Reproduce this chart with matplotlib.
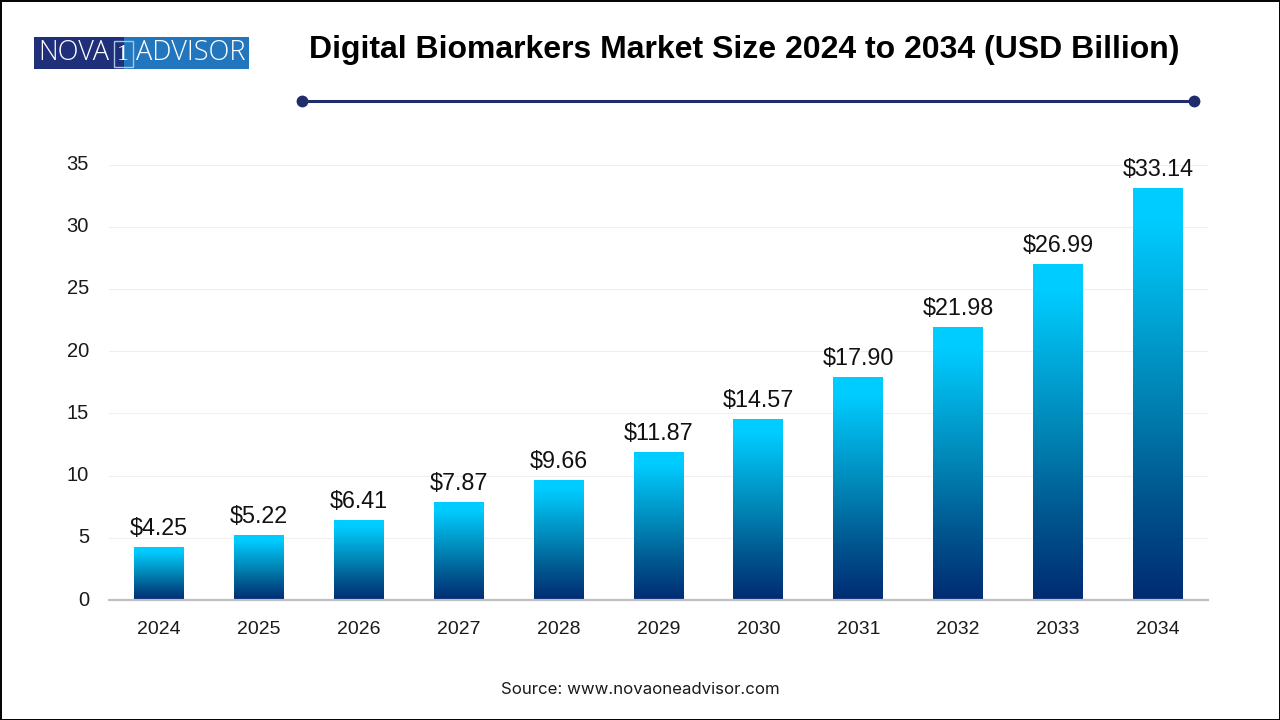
import numpy as np
import matplotlib
matplotlib.use('Agg')
import matplotlib.pyplot as plt
from matplotlib.colors import LinearSegmentedColormap
from matplotlib.patches import Rectangle

years = ['2024', '2025', '2026', '2027', '2028', '2029', '2030', '2031', '2032', '2033', '2034']
values = [4.25, 5.22, 6.41, 7.87, 9.66, 11.87, 14.57, 17.90, 21.98, 26.99, 33.14]
labels = ['$4.25', '$5.22', '$6.41', '$7.87', '$9.66', '$11.87', '$14.57', '$17.90', '$21.98', '$26.99', '$33.14']
y_ticks = [0, 5, 10, 15, 20, 25, 30, 35]

W, H = 1280, 720
plt.rcParams['font.family'] = ['Liberation Sans', 'DejaVu Sans']

fig = plt.figure(figsize=(W / 100, H / 100), dpi=100, facecolor='white')

# chart area, pixel box
ax = fig.add_axes([109 / W, 1 - 600 / H, (1208 - 109) / W, (600 - 164.5) / H])
ax.set_xlim(-0.5, 10.5)
ax.set_ylim(0, 35)
ax.set_axisbelow(True)
ax.grid(axis='y', color='#EFEFEF', linewidth=0.8)
for side in ['top', 'left', 'right']:
    ax.spines[side].set_visible(False)
ax.spines['bottom'].set_color('#BFBFBF')
ax.spines['bottom'].set_linewidth(1.6)
ax.spines['bottom'].set_zorder(5)
ax.tick_params(axis='both', length=0, labelcolor='#1A1A1A')
ax.tick_params(axis='x', pad=15, labelsize=14)
ax.tick_params(axis='y', pad=14.4, labelsize=14.5)
ax.set_yticks(y_ticks)
for lab in ax.get_yticklabels():
    lab.set_va('center')
ax.set_xticks(range(len(years)))
ax.set_xticklabels(years)

# bars with a vertical gradient
bar_cmap = LinearSegmentedColormap.from_list(
    'bars', [(0, '#002B73'), (0.25, '#00568F'), (0.5, '#0085B5'), (0.92, '#00CCFF'), (1, '#00CCFF')])
gradient = np.linspace(1, 0, 256).reshape(-1, 1)
bar_w = 0.5
bars = ax.bar(range(len(values)), values, width=bar_w, color='none')
for i, (bar, val) in enumerate(zip(bars, values)):
    im = ax.imshow(gradient, cmap=bar_cmap, aspect='auto', vmin=0, vmax=1, zorder=3,
                   extent=(i - bar_w / 2, i + bar_w / 2, 0, val))
    im.set_clip_path(bar)
    ax.annotate(labels[i], (i, val), xytext=(0, 5), textcoords='offset points',
                ha='center', va='bottom', fontsize=16.8, color='#111111', zorder=4)
ax.set_xlim(-0.5, 10.5)
ax.set_ylim(0, 35)

# overlay in pixel coordinates for title, rule, logo and frame
ov = fig.add_axes([0, 0, 1, 1], facecolor='none')
ov.set_xlim(0, W)
ov.set_ylim(H, 0)
ov.axis('off')

ov.text(744, 50, 'Digital Biomarkers Market Size 2024 to 2034 (USD Billion)',
        ha='center', va='center', fontsize=23, fontweight='bold', color='black')
ov.plot([302, 1194], [101, 101], color='#1F2D6B', linewidth=2.2, solid_capstyle='butt')
ov.plot([302, 1194], [101, 101], linestyle='none', marker='o', markersize=7.5, color='#1F2D6B')

ov.text(640, 689.5, 'Source: www.novaoneadvisor.com', ha='center', va='center',
        fontsize=12.1, color='#1A1A1A', fontfamily='Inter')

# logo
ov.add_patch(Rectangle((34, 37), 90, 32, facecolor='#1F2F7A', edgecolor='none'))
ov.add_patch(Rectangle((124, 37), 125, 32, facecolor='#2176BE', edgecolor='none'))
ov.text(38, 53, 'NOVA', ha='left', va='center', fontsize=19.5, color='white', fontfamily='Open Sans', fontweight='light')
ov.add_patch(Rectangle((113.5, 40.5), 19, 26, facecolor='none', edgecolor='#A9C4E4', linewidth=1))
ov.text(123, 54, '1', ha='center', va='center', fontsize=17, color='white', fontfamily='Liberation Serif')
ov.text(136.5, 53, 'ADVISOR', ha='left', va='center', fontsize=19.5, color='white', fontfamily='Open Sans', fontweight='light')

# outer frame
ov.add_patch(Rectangle((0.5, 0.5), W - 1, H - 1, facecolor='none', edgecolor='black', linewidth=1.4))

fig.savefig('out.png', dpi=100)
